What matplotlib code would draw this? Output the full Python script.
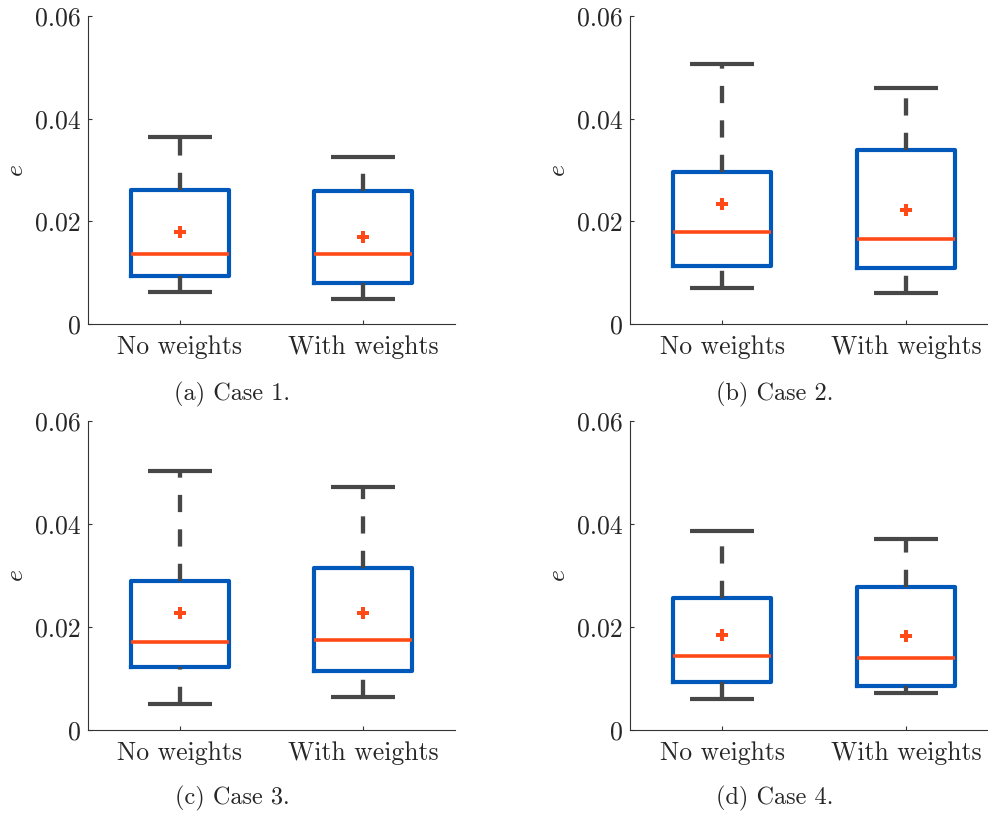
import matplotlib
matplotlib.use('Agg')
import matplotlib.pyplot as plt

plt.rcParams.update({
    'font.family': 'cmr10',
    'mathtext.fontset': 'cm',
    'axes.unicode_minus': False,
    'axes.formatter.use_mathtext': True,
    'font.size': 18.5,
})

groups = ['No weights', 'With weights']
captions = ['(a) Case 1.', '(b) Case 2.', '(c) Case 3.', '(d) Case 4.']

# per case: [No weights, With weights]
whislo = [[0.0063, 0.0049], [0.0071, 0.0061], [0.0050, 0.0065], [0.0060, 0.0072]]
q1     = [[0.0093, 0.0079], [0.0113, 0.0110], [0.0122, 0.0115], [0.0094, 0.0085]]
med    = [[0.0137, 0.0137], [0.0180, 0.0165], [0.0170, 0.0175], [0.0143, 0.0139]]
mean   = [[0.0179, 0.0170], [0.0234, 0.0223], [0.0227, 0.0227], [0.0185, 0.0183]]
q3     = [[0.0261, 0.0260], [0.0297, 0.0339], [0.0290, 0.0315], [0.0256, 0.0277]]
whishi = [[0.0364, 0.0325], [0.0507, 0.0459], [0.0502, 0.0472], [0.0387, 0.0370]]

yticks = [0, 0.02, 0.04, 0.06]
yticklabels = ['0', '0.02', '0.04', '0.06']

BLUE = '#0059BA'
ORANGE = '#FF4A17'
GRAY = '#474747'
AXC = '#262626'

W, H = 988, 814
fig = plt.figure(figsize=(W / 100, H / 100), dpi=100)

# axes boxes in pixels: left, right, top, bottom
boxes_px = [(88, 455, 16, 324), (630, 998, 16, 324),
            (88, 455, 421, 730), (630, 998, 421, 730)]
cap_px = [(232, 394), (775, 394), (232, 798), (775, 798)]

for k in range(4):
    l, r, t, b = boxes_px[k]
    ax = fig.add_axes([l / W, 1 - b / H, (r - l) / W, (b - t) / H])
    stats = []
    for j in range(2):
        stats.append(dict(label=groups[j], whislo=whislo[k][j], q1=q1[k][j],
                          med=med[k][j], mean=mean[k][j], q3=q3[k][j],
                          whishi=whishi[k][j], fliers=[]))
    res = ax.bxp(stats, positions=[1, 2], widths=0.535, capwidths=0.35,
                 showmeans=True, showfliers=False,
                 boxprops=dict(color=BLUE, linewidth=3.0, solid_joinstyle='round'),
                 medianprops=dict(color=ORANGE, linewidth=2.6, solid_capstyle='butt'),
                 whiskerprops=dict(color=GRAY, linewidth=3.1, linestyle=(0, (4, 4)),
                                   dash_capstyle='butt'),
                 capprops=dict(color=GRAY, linewidth=3.0, solid_capstyle='butt'),
                 meanprops=dict(marker='P', markersize=9, markerfacecolor=ORANGE,
                                markeredgecolor=ORANGE, markeredgewidth=0))
    # lower whiskers: dash pattern starts at the cap
    for ln in res['whiskers'][::2]:
        x, y = ln.get_data()
        ln.set_data(x[::-1], y[::-1])
    ax.set_xlim(0.5, 2.5)
    ax.set_ylim(0, 0.06)
    ax.set_yticks(yticks)
    ax.set_yticklabels(yticklabels)
    ax.set_ylabel('$e$', labelpad=5, color=AXC)
    for s in ['top', 'right']:
        ax.spines[s].set_visible(False)
    for s in ['left', 'bottom']:
        ax.spines[s].set_color('#333333')
        ax.spines[s].set_linewidth(0.8)
    ax.tick_params(direction='in', length=3, width=0.8, colors='#333333',
                   labelcolor=AXC, pad=5)
    ax.tick_params(axis='x', pad=8)
    fig.text(cap_px[k][0] / W, 1 - cap_px[k][1] / H, captions[k],
             ha='center', va='center', fontsize=17.5, color=AXC)

fig.savefig('out.png', dpi=100)
